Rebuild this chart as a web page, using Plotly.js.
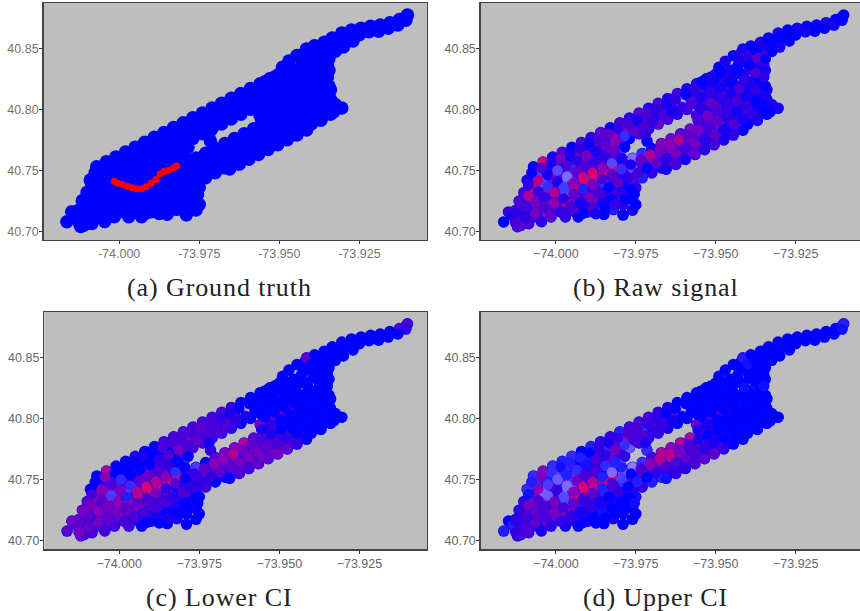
<!DOCTYPE html>
<html>
<head>
<meta charset="utf-8">
<script src="https://cdn.plot.ly/plotly-3.0.1.min.js"></script>
<style>html,body{margin:0;padding:0;background:#fff;overflow:hidden}
.annotation-text{letter-spacing:0.9px}</style>
</head>
<body>
<div id="chart" style="width:860px;height:611px"></div>
<script>
const lon = [
-74.007,-74.004,-74.001,-73.998,-73.995,-73.992,-73.989,-73.986,-73.983,-73.980,-73.977,-73.974,-73.971,-73.968,-73.965,-73.962,-73.959,-73.956,-73.953,-73.950,
-74.009,-74.006,-74.003,-74.000,-73.997,-73.994,-73.991,-73.988,-73.985,-73.982,-73.979,-73.976,-73.973,-73.970,-73.967,-73.964,-73.961,-73.958,-73.955,-73.952,-73.949,-73.946,
-74.010,-74.007,-74.004,-74.001,-73.998,-73.995,-73.992,-73.989,-73.986,-73.983,-73.980,-73.977,-73.974,-73.971,-73.968,-73.965,-73.962,-73.959,-73.956,-73.953,-73.950,-73.947,-73.944,-73.941,
-74.010,-74.007,-74.004,-74.001,-73.998,-73.995,-73.992,-73.989,-73.986,-73.983,-73.980,-73.9715,-73.956,-73.953,-73.950,-73.947,-73.944,-73.941,-73.938,-73.936,
-74.012,-74.009,-74.006,-74.003,-74.000,-73.997,-73.994,-73.991,-73.988,-73.985,-73.982,-73.979,-73.976,-73.973,-73.970,-73.967,-73.964,-73.961,-73.958,-73.955,-73.952,-73.949,-73.946,-73.943,-73.940,-73.937,-73.934,
-74.012,-74.009,-74.006,-74.003,-74.000,-73.997,-73.994,-73.991,-73.988,-73.985,-73.982,-73.979,-73.976,-73.973,-73.970,-73.967,-73.964,-73.961,-73.958,-73.955,-73.952,-73.949,-73.946,-73.943,-73.940,-73.937,-73.934,
-73.997,-73.994,-73.991,-73.988,-73.985,-73.982,-73.979,-73.976,-73.973,-73.970,-73.967,-73.964,-73.961,-73.958,-73.955,-73.952,-73.949,-73.946,-73.943,-73.940,-73.937,-73.934,-73.9305,
-73.993,-73.990,-73.987,-73.984,-73.981,-73.978,-73.975,
-73.985,-73.982,-73.979,-73.976,
-73.979,-73.976,-73.975,
-74.0163,-74.0148,-74.0125,-74.0125,-74.0110,-74.0085,-74.0135,
-73.949,-73.947,-73.9445,-73.942,-73.9415,-73.939,-73.936,-73.9335,-73.9305,-73.9275,-73.9245,-73.9215,-73.9185,-73.9155,-73.9125,-73.9105,-73.910,
-73.9455,-73.943,-73.9405,-73.938,-73.9355,-73.933,-73.9305,-73.928,-73.925,-73.922,-73.919,-73.916,-73.913,-73.9105,
-73.942,-73.9395,-73.937,-73.935,-73.9345,-73.9325,-73.930,-73.927,
-73.9375,-73.9355,-73.935,
-74.0075,-74.0045,-74.0015,-73.9985,-73.9955,-73.9925,-73.9895,-73.9865,-73.9835,-73.9805,-73.9775,-73.9745,-73.9715,-73.9685,-73.9655,-73.9625,-73.9595,-73.9565,-73.9535,-73.9505,-73.9475,
-74.0085,-74.0055,-74.0025,-73.9995,-73.9965,-73.9935,-73.9905,-73.9875,-73.9845,-73.9815,-73.9785,-73.9755,-73.9725,-73.9695,-73.9665,-73.9635,-73.9605,-73.9575,-73.9545,-73.9515,-73.9485,-73.9455,
-74.0115,-74.0085,-74.0055,-74.0025,-73.9995,-73.9965,-73.9935,-73.9905,-73.9875,-73.9845,-73.9815,-73.9785,-73.972,-73.9545,-73.9515,-73.9485,-73.9455,-73.9425,-73.9395,-73.9365,
-74.0125,-74.0095,-74.0065,-74.0035,-74.0005,-73.9975,-73.9945,-73.9915,-73.9885,-73.9855,-73.9825,-73.9795,-73.9555,-73.9525,-73.9495,-73.9465,-73.9435,-73.9405,-73.9375,-73.9345,
-74.0125,-74.0095,-74.0065,-74.0035,-74.0005,-73.9975,-73.9945,-73.9915,-73.9885,-73.9855,-73.9825,-73.9795,-73.9765,-73.9735,-73.9705,-73.9675,-73.9645,-73.9615,-73.9585,-73.9555,-73.9525,-73.9495,-73.9465,-73.9435,-73.9405,-73.9375,-73.9345,
-74.0045,-74.0015,-73.9985,-73.9955,-73.9925,-73.9895,-73.9865,-73.9835,-73.9805,-73.9775,-73.9745,-73.9715,-73.9685,-73.9655,-73.9625,-73.9595,-73.9565,-73.9535,-73.9505,-73.9475,-73.9445,-73.9415,-73.9385,-73.9355,-73.9325,
-73.9655,-73.9625,-73.9595,-73.9565,-73.9535,-73.9505,-73.9475,-73.9445,-73.9415,-73.933,-73.937,
-73.9915,-73.9885,-73.9855,-73.9825,-73.9795,-73.9765,
-73.9875,-73.9845,-73.9815,-73.9785,-73.9755,
-73.9485,-73.9445,-73.941,-73.9435,-73.9375,-73.9395,-73.9425,-73.940,-73.9375,-73.935,-73.9325,-73.930,-73.937,-73.9345,-73.9345,-73.935,-73.9515,-73.9545
];
const lat = [
40.753,40.757,40.761,40.765,40.769,40.773,40.777,40.781,40.785,40.789,40.793,40.797,40.801,40.805,40.809,40.813,40.817,40.821,40.825,40.829,
40.742,40.746,40.750,40.754,40.758,40.762,40.766,40.770,40.774,40.778,40.782,40.786,40.790,40.794,40.798,40.802,40.806,40.810,40.814,40.818,40.822,40.826,
40.732,40.736,40.740,40.744,40.748,40.752,40.756,40.760,40.764,40.768,40.772,40.776,40.780,40.784,40.788,40.792,40.796,40.800,40.804,40.808,40.812,40.816,40.820,40.824,
40.723,40.727,40.731,40.735,40.739,40.743,40.747,40.751,40.755,40.759,40.763,40.774,40.795,40.799,40.803,40.807,40.811,40.815,40.819,40.822,
40.712,40.716,40.720,40.724,40.728,40.732,40.736,40.740,40.744,40.748,40.752,40.756,40.760,40.764,40.768,40.772,40.776,40.780,40.784,40.788,40.792,40.796,40.800,40.804,40.808,40.812,40.816,
40.704,40.708,40.712,40.716,40.720,40.724,40.728,40.732,40.736,40.740,40.744,40.748,40.752,40.756,40.760,40.764,40.768,40.772,40.776,40.780,40.784,40.788,40.792,40.796,40.800,40.804,40.808,
40.712,40.716,40.720,40.724,40.728,40.732,40.736,40.740,40.744,40.748,40.752,40.756,40.760,40.764,40.768,40.772,40.776,40.780,40.784,40.788,40.792,40.796,40.801,
40.712,40.716,40.720,40.724,40.728,40.732,40.736,
40.714,40.718,40.722,40.726,
40.7135,40.7175,40.722,
40.7079,40.7161,40.7093,40.7175,40.7050,40.7065,40.7130,
40.8345,40.8395,40.844,40.8465,40.8495,40.852,40.855,40.8585,40.8625,40.865,40.8665,40.868,40.869,40.871,40.8735,40.8755,40.8773,
40.832,40.836,40.840,40.844,40.848,40.8515,40.8555,40.859,40.861,40.8635,40.864,40.8665,40.869,40.873,
40.829,40.833,40.8365,40.8405,40.844,40.8475,40.851,40.856,
40.826,40.831,40.8365,
40.748,40.752,40.756,40.760,40.764,40.768,40.772,40.776,40.780,40.784,40.788,40.792,40.796,40.800,40.804,40.808,40.812,40.816,40.820,40.824,40.828,
40.738,40.742,40.746,40.750,40.754,40.758,40.762,40.766,40.770,40.774,40.778,40.782,40.786,40.790,40.794,40.798,40.802,40.806,40.810,40.814,40.818,40.822,
40.725,40.729,40.733,40.737,40.741,40.745,40.749,40.753,40.757,40.761,40.765,40.769,40.780,40.801,40.805,40.809,40.813,40.817,40.821,40.825,
40.716,40.720,40.724,40.728,40.732,40.736,40.740,40.744,40.748,40.752,40.756,40.760,40.791,40.795,40.799,40.803,40.807,40.811,40.815,40.819,
40.707,40.711,40.715,40.719,40.723,40.727,40.731,40.735,40.739,40.743,40.747,40.751,40.755,40.759,40.763,40.767,40.771,40.775,40.779,40.783,40.787,40.791,40.795,40.799,40.803,40.807,40.811,
40.708,40.712,40.716,40.720,40.724,40.728,40.732,40.736,40.740,40.744,40.748,40.752,40.756,40.760,40.764,40.768,40.772,40.776,40.780,40.784,40.788,40.792,40.796,40.800,40.804,
40.751,40.755,40.759,40.763,40.767,40.771,40.775,40.779,40.783,40.798,40.791,
40.715,40.719,40.723,40.727,40.731,40.735,
40.7146,40.7186,40.7226,40.7266,40.7306,
40.8305,40.8275,40.8255,40.8335,40.8300,40.8365,40.8410,40.8445,40.8480,40.8515,40.8550,40.8590,40.8420,40.8415,40.8320,40.8265,40.8265,40.8225
];
const truthRouteLon = [-74.0015,-74.0005,-73.9990,-73.9975,-73.9960,-73.9945,-73.9930,-73.9915,-73.9900,-73.9885,-73.9872,-73.9860,-73.9845,-73.9830,-73.9820];
const truthRouteLat = [40.7410,40.7395,40.7385,40.7370,40.7358,40.7348,40.7348,40.7365,40.7395,40.7425,40.7470,40.7490,40.7500,40.7520,40.7536];
const raw = [
0,.8,.1,.3,0,.3,.2,.4,0,.3,.2,.4,.2,.3,.1,.3,.1,.2,0,.2,
.1,-.4,.2,.4,0,.5,.2,.5,.3,.7,.6,.2,.4,.1,.3,.2,-1,.2,.3,.1,.2,0,
.3,.8,-.5,.6,.3,-.3,.4,.3,.2,.5,.3,0,.3,.2,.5,.3,.2,.3,.2,.3,.1,.3,.1,0,
.2,.6,.7,.3,-.6,-.3,.5,.4,.3,.3,-.4,0,.3,.1,.4,.2,.2,0,.2,.1,
.2,.1,.4,.5,.4,-.5,.8,.8,.8,.8,.8,.3,-.7,-.3,.1,.6,.5,.4,.5,.3,.5,.2,.3,.1,.2,0,.1,
.3,.5,.3,.6,.3,.7,.5,.3,.4,-.3,.3,.2,-.5,.3,.6,.5,.6,.4,.5,.4,.3,.6,.2,.2,.3,.1,0,
.2,.4,.1,.5,.2,.3,0,.4,-.2,.2,.1,.3,.2,.4,.3,.1,.4,0,.3,0,.2,0,.1,
0,.2,-.2,.1,.3,0,.2,
0,-.2,.2,0,
0,.1,0,
0,.2,.3,.3,.4,.3,.1,
0,.1,0,.2,.1,0,.1,0,.1,0,.1,0,0,.1,0,0,0,
.1,0,.2,0,.1,0,.1,0,0,.1,0,0,.1,0,
0,.2,.1,0,.4,0,.1,0,
.1,0,.2,
0,.3,.1,.5,.1,.2,0,.3,.4,.2,.3,.1,.3,.2,.1,.2,0,.2,.1,0,.1,
.2,.7,.1,-.5,.3,.2,.5,.1,.4,.6,-.3,.4,.3,.2,.3,.1,.2,.3,.1,.2,.1,0,
.3,.7,.2,-.3,.1,-.7,.4,.3,.2,.2,.4,0,.2,.2,.4,.2,.1,.3,.1,0,
.2,.3,.5,.2,.7,-.4,.6,.8,.8,.6,-.5,.1,.3,.5,.3,.2,.3,.1,.2,0,
.3,.2,.5,.3,.6,.2,.4,-.2,.5,.3,.4,-.3,.1,.4,.7,.5,.6,.7,.4,.5,.3,.4,.2,.1,.2,0,.1,
.2,.4,.2,.3,.1,.5,.3,0,.4,.2,.3,0,.4,.2,.5,.3,.5,.2,.4,.1,.3,.1,.2,0,.1,
.1,.3,.1,.4,.2,.3,.1,.2,0,0,.1,
0,.3,.1,0,.2,0,
.1,0,.2,0,0,
0,.1,.2,0,.3,0,.1,.2,0,.1,0,0,.4,0,.1,.2,.1,0
];
const lower = [
0,.7,0,0,.1,0,0,.3,.3,.3,.3,.3,.3,.3,.2,0,0,0,0,0,
0,0,.3,0,0,0,0,0,0,.3,.6,.3,.3,.3,.3,.3,-1,0,0,0,0,0,
.4,.6,.6,.5,.3,.2,.5,.3,.3,0,.4,.3,.3,.3,.3,.2,0,0,0,0,0,0,0,0,
.5,.3,.7,.6,-.5,-.2,.5,.4,.5,0,-.3,.2,.5,.4,.4,.2,0,0,0,0,
.4,.3,.4,.5,.5,.7,.8,.8,.8,.8,.8,.3,-.4,0,.4,.5,.6,.7,.4,.4,.3,.1,0,0,0,0,0,
.5,.5,.3,.4,.5,.5,.6,.4,.3,.4,0,.2,.3,.4,.4,.5,.5,.4,.5,.4,.4,.3,0,0,0,0,0,
.3,.2,.2,.3,.3,.2,.3,.2,.3,0,0,.3,.3,.4,.5,.5,.4,.3,.2,0,0,0,0,
0,.1,.2,0,.1,.2,0,
0,.1,0,.1,
0,0,0,
.4,.5,.3,.5,.3,.3,.4,
0,0,0,0,.4,0,0,0,0,0,0,0,0,0,.3,.3,.3,
0,0,0,0,0,0,0,0,0,0,0,0,0,.2,
0,0,0,0,0,0,0,0,
0,0,0,
0,.6,0,0,0,.1,0,.3,.3,.3,.3,.4,.3,.2,.1,0,0,0,0,0,0,
.3,.6,.3,-.3,0,0,0,.2,.3,.5,.3,.4,.3,.3,.3,.2,.1,0,0,0,0,0,
.5,.5,.4,-.4,.5,-.3,.4,.4,.3,.2,0,0,.1,0,0,0,0,0,0,0,
.4,.4,.6,.5,.6,-.2,.7,.8,.7,.6,-.3,0,.1,.2,0,0,0,0,0,0,
.5,.4,.5,.4,.5,.4,.4,.3,.5,.2,.4,0,.2,.4,.6,.6,.7,.5,.4,.3,.1,0,0,0,0,0,0,
.3,.3,.3,.3,.3,.3,.3,.2,.3,.2,.2,.2,.4,.4,.5,.5,.5,.4,.3,.2,0,0,0,0,0,
0,.3,.3,.4,.4,.5,.4,.2,0,0,0,
0,.1,0,.1,0,0,
0,.1,0,0,0,
0,0,0,0,0,0,0,0,0,0,0,0,0,0,0,0,0,0
];
const upper = [
-.3,.6,-.3,-.2,-.3,0,-.2,.2,.2,-.2,.3,.3,.3,.2,.1,0,0,0,0,0,
-.3,-.3,-.2,-.4,-.3,0,-.2,.3,-.3,.4,.7,.3,-.3,.3,.3,.3,-1,0,0,0,0,0,
.2,.6,-.7,.3,-.3,-.4,.3,.2,.2,.5,.2,-.6,.3,.2,.2,.1,0,0,0,0,0,0,0,0,
.2,.5,.6,.2,-.7,-.5,.4,.3,0,-.2,-.5,-.3,.5,.4,.3,.1,0,0,0,0,
.1,.2,.3,.4,.4,-.4,.8,.8,.8,.8,.8,-.6,-.8,-.3,.3,.7,.6,.7,.7,.4,.3,0,0,0,0,0,0,
.2,.3,.2,.4,.5,.6,.5,.3,.3,-.2,.3,-.3,.2,.4,.5,.6,.7,.6,.3,.4,.2,.1,0,0,0,0,0,
.1,.2,.1,.2,.1,.1,0,.2,.2,-.2,-.2,.1,.2,.3,.3,.2,.3,.1,0,0,0,0,0,
0,.1,0,-.1,.1,0,-.1,
0,.1,0,0,
0,0,0,
-.2,0,.3,.1,.3,.3,-.2,
0,0,0,0,-.2,0,0,0,0,0,0,0,0,0,0,0,-.2,
0,0,0,0,0,0,0,0,0,0,0,0,0,-.1,
0,0,0,0,0,0,0,0,
-.1,0,0,
-.2,.5,-.3,-.1,-.2,-.2,0,.2,.1,.2,.3,.3,.2,.2,0,0,0,0,0,0,0,
-.1,.6,-.4,-.6,-.2,-.3,-.1,.3,.2,.5,-.3,.3,.3,.2,.2,.1,0,0,0,0,0,0,
.2,.5,.3,-.6,.2,-.7,.5,.3,.3,-.3,-.2,.2,.1,0,0,0,0,0,0,0,
.2,.3,.4,.3,.5,-.5,.6,.8,.7,-.2,-.7,-.2,.1,.1,0,0,0,0,0,0,
.2,.3,.4,.3,.5,.3,.4,.2,.4,-.2,.3,-.4,0,.3,.6,.7,.7,.5,.3,.1,0,0,0,0,0,0,0,
.1,.2,.2,.2,.1,.2,.1,0,.2,0,-.2,0,.2,.3,.3,.4,.3,.2,.1,0,0,0,0,0,0,
-.1,.2,.2,.3,.4,.4,.2,0,0,0,0,
0,0,-.1,0,0,0,
0,0,0,0,-.1,
0,0,-.1,0,0,0,0,-.1,0,0,0,0,0,0,0,-.1,0,0
];
const xTickVals = [-74.0,-73.975,-73.95,-73.925];
const xTickHyphen = ["-74.000","-73.975","-73.950","-73.925"];
const xTickMinus = ["\u221274.000","\u221273.975","\u221273.950","\u221273.925"];
const yTickVals = [40.70,40.75,40.80,40.85];
const yTickText = ["40.70","40.75","40.80","40.85"];
const captions = ["(a) Ground truth","(b) Raw signal","(c) Lower CI","(d) Upper CI"];

const W = 860, H = 611;
const BLUE = "#0000ff", RED = "#ff0000";
const signalScale = [[0,"#b49cff"],[0.25,"#5a48ff"],[0.5,"#0000ff"],[0.65,"#4a00d8"],[0.8,"#8a00b8"],[0.9,"#d80070"],[1,"#ff0000"]];

function pts(xa, ya, colors, size) {
  const marker = {size: size, line: {width: 0}};
  if (Array.isArray(colors)) { marker.color = colors; marker.colorscale = signalScale; marker.cmin = -1; marker.cmax = 1; marker.showscale = false; }
  else marker.color = colors;
  return {type: "scatter", mode: "markers", x: lon, y: lat, xaxis: xa, yaxis: ya, marker: marker, hoverinfo: "skip", showlegend: false};
}
const data = [
  pts("x","y",BLUE,13.5),
  {type:"scatter",mode:"markers",x:truthRouteLon,y:truthRouteLat,xaxis:"x",yaxis:"y",marker:{size:7,color:RED,symbol:"circle"},hoverinfo:"skip",showlegend:false},
  pts("x2","y2",BLUE,11.5), pts("x2","y2",raw,10.5),
  pts("x3","y3",BLUE,11.5), pts("x3","y3",lower,10.5),
  pts("x4","y4",BLUE,11.5), pts("x4","y4",upper,10.5)
];
function xax(l, r, range, anchor, text, color) {
  return {domain:[l/W,r/W], range:range, anchor:anchor, tickvals:xTickVals, ticktext:text, ticks:"outside", ticklen:3, tickwidth:1, tickcolor:"#333", ticklabelstandoff:-1,
    showgrid:false, zeroline:false, showline:true, linecolor:"#444", linewidth:1.4, mirror:true,
    tickfont:{family:"Liberation Sans",size:12.5,color:color}, automargin:false, fixedrange:true};
}
function yax(t, b, range, anchor, color) {
  return {domain:[1-b/H,1-t/H], range:range, anchor:anchor, tickvals:yTickVals, ticktext:yTickText, ticks:"outside", ticklen:3, tickwidth:1, tickcolor:"#333", ticklabelstandoff:-2,
    showgrid:false, zeroline:false, showline:true, linecolor:"#444", linewidth:1.4, mirror:true,
    tickfont:{family:"Liberation Sans",size:12.5,color:color}, automargin:false, fixedrange:true};
}
const capX = [219,655.5,219,655.5], capY = [288,288,597,597];
const layout = {
  width:W, height:H, margin:{l:0,r:0,t:0,b:0,pad:0}, paper_bgcolor:"#ffffff", plot_bgcolor:"#bebebe", showlegend:false,
  xaxis: xax(43.5,427,[-74.0236,-73.9039],"y",xTickHyphen,"#7b7268"),
  yaxis: yax(3,240,[40.6929,40.8871],"x","#7b7268"),
  xaxis2: xax(480.7,860,[-74.0235,-73.9049],"y2",xTickMinus,"#666"),
  yaxis2: yax(3,240,[40.6931,40.8871],"x2","#666"),
  xaxis3: xax(44.3,427,[-74.0234,-73.9039],"y3",xTickMinus,"#666"),
  yaxis3: yax(312,549.3,[40.6930,40.8870],"x3","#666"),
  xaxis4: xax(480.7,860,[-74.0235,-73.9049],"y4",xTickMinus,"#666"),
  yaxis4: yax(312,549.3,[40.6930,40.8870],"x4","#666"),
  annotations: captions.map((c,i)=>({text:c, xref:"paper", yref:"paper", x:capX[i]/W, y:1-capY[i]/H, xanchor:"center", yanchor:"middle", showarrow:false,
    font:{family:"Liberation Serif",size:26,color:"#222"}}))
};
Plotly.newPlot("chart", data, layout, {displayModeBar:false, staticPlot:true});
</script>
</body>
</html>
